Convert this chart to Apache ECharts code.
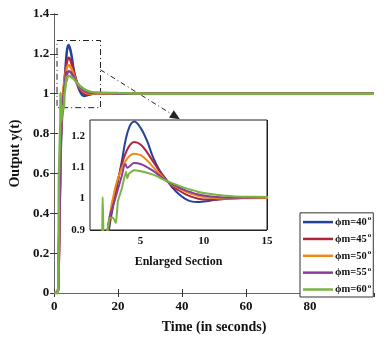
<!DOCTYPE html>
<html>
<head>
<meta charset="utf-8">
<script src="https://cdn.jsdelivr.net/npm/echarts@6/dist/echarts.min.js"></script>
<style>
  html, body { margin: 0; padding: 0; background: #fff; }
  #chart { width: 387px; height: 339px; }
</style>
</head>
<body>
<div id="chart"></div>
<script>
// step responses
const names = ['ϕm=40°', 'ϕm=45°', 'ϕm=50°', 'ϕm=55°', 'ϕm=60°'];
const colors = ['#22429c', '#b3243c', '#ef8a17', '#8a3c98', '#7ab342'];

const time = [0, 1, 1.5, 2, 2.5, 3, 3.5, 4, 4.5, 5, 5.5, 6, 6.5, 7, 7.5, 8, 8.5, 9, 9.5, 10, 11, 12, 13, 15, 20, 30, 50, 100];
const phi40 = [0, 0, 0.22, 0.68, 0.90, 1.01, 1.115, 1.215, 1.245, 1.225, 1.185, 1.13, 1.09, 1.062, 1.036, 1.015, 1.0, 0.991, 0.989, 0.991, 0.996, 1.0, 1.002, 1.002, 1.0, 1.0, 1.0, 1.0];
const phi45 = [0, 0, 0.2, 0.72, 0.91, 1.02, 1.105, 1.16, 1.18, 1.172, 1.148, 1.117, 1.087, 1.06, 1.041, 1.027, 1.015, 1.006, 1.0, 0.997, 0.997, 1.0, 1.002, 1.002, 1.0, 1.0, 1.0, 1.0];
const phi50 = [0, 0, 0.22, 0.76, 0.93, 1.035, 1.095, 1.13, 1.143, 1.138, 1.122, 1.1, 1.079, 1.058, 1.044, 1.033, 1.023, 1.015, 1.009, 1.005, 1.001, 1.0, 1.001, 1.002, 1.0, 1.0, 1.0, 1.0];

const time55 = [0, 1, 1.5, 2, 2.5, 3, 3.5, 3.8, 3.95, 4.5, 5, 5.5, 6, 6.5, 7, 7.5, 8, 8.5, 9, 9.5, 10, 11, 12, 13, 15, 20, 30, 50, 100];
const phi55 = [0, 0, 0.2, 0.74, 0.93, 1.0, 1.07, 1.11, 1.098, 1.113, 1.11, 1.1, 1.088, 1.073, 1.057, 1.046, 1.036, 1.027, 1.02, 1.014, 1.01, 1.005, 1.003, 1.003, 1.004, 1.0, 1.0, 1.0, 1.0];

const time60 = [0, 1.2, 1.5, 1.95, 2.0, 2.1, 2.3, 2.55, 2.8, 3.05, 3.2, 3.5, 3.85, 3.95, 4.1, 4.5, 5, 5.5, 6, 6.5, 7, 7.5, 8, 8.5, 9, 9.5, 10, 11, 12, 13, 15, 20, 30, 50, 100];
const phi60 = [0, 0, 0.6, 0.86, 1.005, 0.86, 0.88, 0.937, 0.94, 0.922, 0.99, 1.03, 1.085, 1.065, 1.08, 1.09, 1.087, 1.082, 1.076, 1.067, 1.057, 1.049, 1.041, 1.034, 1.028, 1.022, 1.018, 1.012, 1.008, 1.006, 1.005, 1.003, 1.0, 1.0, 1.0];

const mainTicks = { x: [0, 100, 20], y: [0, 1.4, 0.2] };
const insetRange = { x: [1, 15], y: [0.9, 1.25, 0.1] };
const insetXTicks = [5, 10, 15];

// dash-dot box round the peak and the arrow to the inset (data coords)
const zoomBox = [[0.9, 1.267], [14.5, 0.93]];
const arrow = [[14.5, 1.12], [38, 0.885]];

const curves = [
    [time, phi40], [time, phi45], [time, phi50], [time55, phi55], [time60, phi60]
];

function pairs(t, v) {
    let out = [];
    for (let i = 0; i < t.length; i++) out.push([t[i], v[i]]);
    return out;
}

const font = 'Liberation Serif';
const dark = '#333';

let series = [];
curves.forEach(function (c, i) {
    series.push({
        name: names[i], type: 'line', xAxisIndex: 0, yAxisIndex: 0,
        data: pairs(c[0], c[1]), showSymbol: false, symbol: 'none',
        smooth: i === 4 ? 0.15 : 0.4,
        lineStyle: { color: colors[i], width: 2.5 },
        itemStyle: { color: colors[i] },
        z: 3 + i
    });
});
curves.forEach(function (c, i) {
    series.push({
        name: names[i], type: 'line', xAxisIndex: 2, yAxisIndex: 2,
        data: pairs(c[0], c[1]), showSymbol: false, symbol: 'none',
        smooth: i === 4 ? 0.15 : 0.4,
        lineStyle: { color: colors[i], width: 2 },
        itemStyle: { color: colors[i] },
        z: 3 + i
    });
});
series[0].markArea = {
    silent: true,
    itemStyle: { color: 'rgba(0,0,0,0)', borderColor: '#222', borderWidth: 1, borderType: [6, 3, 1, 3] },
    label: { show: false },
    data: [[{ coord: zoomBox[0] }, { coord: zoomBox[1] }]]
};
series[0].markLine = {
    silent: true,
    symbol: ['none', 'triangle'],
    symbolSize: [9, 10],
    label: { show: false },
    lineStyle: { color: '#222', width: 1, type: [5, 3, 1, 3] },
    data: [[{ coord: arrow[0] }, { coord: arrow[1] }]]
};

let chart = echarts.init(document.getElementById('chart'));

const option = {
    backgroundColor: '#fff',
    animation: false,
    textStyle: { fontFamily: font },
    legend: {
        data: names,
        orient: 'vertical',
        left: 300, bottom: 42,
        padding: [2, 2, 2, 3],
        icon: 'rect',
        itemWidth: 30, itemHeight: 2.5, itemGap: 4.1,
        backgroundColor: '#fff',
        borderColor: dark, borderWidth: 1, borderRadius: 0,
        formatter: function (n) { return '{a|' + n.replace('°', '') + '}{s|o}'; },
        textStyle: {
            padding: [0, 0, 0, -3],
            rich: {
                a: { fontFamily: font, fontWeight: 'bold', fontSize: 10.5, color: '#111', lineHeight: 14.5 },
                s: { fontFamily: font, fontWeight: 'bold', fontSize: 7, color: '#111', verticalAlign: 'top', padding: [0, 0, 5, 1], lineHeight: 14.5 }
            }
        }
    },
    grid: [
        { left: 50, top: 14, right: 13, bottom: 42, show: false },
        { left: 90, top: 120, right: 120, bottom: 109, show: true, backgroundColor: '#fff', borderColor: '#222', borderWidth: 1, z: 2 }
    ],
    xAxis: [
        {
            type: 'value', gridIndex: 0, min: mainTicks.x[0], max: mainTicks.x[1], interval: mainTicks.x[2],
            name: 'Time (in seconds)', nameLocation: 'middle', nameGap: 27,
            nameTextStyle: { fontFamily: font, fontWeight: 'bold', fontSize: 14, color: '#111' },
            axisLine: { lineStyle: { color: dark } },
            axisTick: { inside: true, length: 4, lineStyle: { color: dark } },
            axisLabel: { showMaxLabel: false, fontFamily: font, fontWeight: 'bold', fontSize: 13, color: '#111', margin: 7 },
            splitLine: { show: false }
        },
        {
            type: 'value', gridIndex: 0, position: 'top', min: mainTicks.x[0], max: mainTicks.x[1], interval: mainTicks.x[2],
            axisLine: { lineStyle: { color: '#666' } },
            axisTick: { inside: true, length: 4, lineStyle: { color: dark } },
            axisLabel: { show: false }, splitLine: { show: false }
        },
        {
            type: 'value', gridIndex: 1, min: insetRange.x[0], max: insetRange.x[1],
            name: 'Enlarged Section', nameLocation: 'middle', nameGap: 26,
            nameTextStyle: { fontFamily: font, fontWeight: 'bold', fontSize: 12, color: '#111' },
            axisLine: { show: false },
            axisTick: { show: false, customValues: insetXTicks },
            axisLabel: { customValues: insetXTicks, fontFamily: font, fontWeight: 'bold', fontSize: 11, color: '#111', margin: 6 },
            splitLine: { show: true, lineStyle: { color: '#222', width: 1 } }
        }
    ],
    yAxis: [
        {
            type: 'value', gridIndex: 0, min: mainTicks.y[0], max: mainTicks.y[1], interval: mainTicks.y[2],
            name: 'Output y(t)', nameLocation: 'middle', nameGap: 32, nameRotate: 90,
            nameTextStyle: { fontFamily: font, fontWeight: 'bold', fontSize: 14, color: '#111' },
            axisLine: { lineStyle: { color: dark } },
            axisTick: { inside: true, length: 4, lineStyle: { color: dark } },
            axisLabel: { fontFamily: font, fontWeight: 'bold', fontSize: 13, color: '#111', margin: 5 },
            splitLine: { show: false }
        },
        {
            type: 'value', gridIndex: 0, position: 'right', min: mainTicks.y[0], max: mainTicks.y[1], interval: mainTicks.y[2],
            axisLine: { lineStyle: { color: '#666' } },
            axisTick: { inside: true, length: 4, lineStyle: { color: dark } },
            axisLabel: { show: false }, splitLine: { show: false }
        },
        {
            type: 'value', gridIndex: 1, min: insetRange.y[0], max: insetRange.y[1], interval: insetRange.y[2],
            axisLine: { show: false }, axisTick: { show: false },
            axisLabel: { showMaxLabel: false, fontFamily: font, fontWeight: 'bold', fontSize: 11, color: '#111', margin: 5 },
            splitLine: { show: true, lineStyle: { color: '#222', width: 1 } }
        }
    ],
    series: series
};

chart.setOption(option);

window.addEventListener('resize', function () {
    chart.resize();
});
</script>
</body>
</html>
